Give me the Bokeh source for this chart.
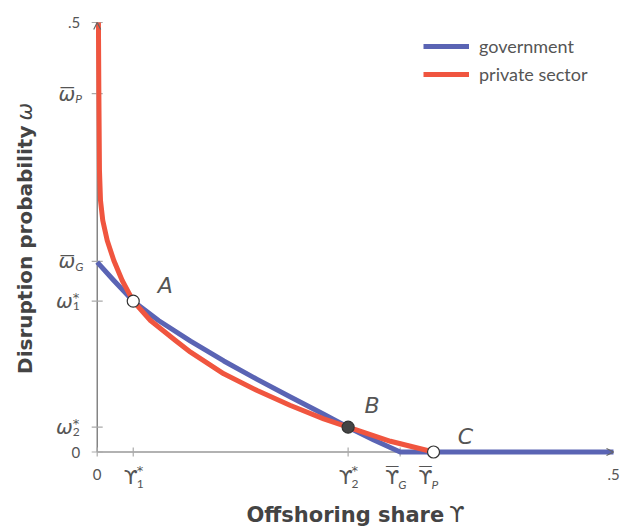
import math
from bokeh.plotting import figure
from bokeh.models import Range1d, Label, Arrow, OpenHead, Legend, LegendItem
from bokeh.embed import file_html
from bokeh.resources import INLINE

# ---------------- data ----------------
gov_x = [0.0, 0.0161, 0.0349, 0.0594, 0.0904, 0.1226, 0.1549, 0.1872, 0.2194, 0.243, 0.2679, 0.2934, 0.500]
gov_y = [0.221, 0.1996, 0.1756, 0.1531, 0.1290, 0.1060, 0.0845, 0.0640, 0.0440, 0.0289, 0.0140, 0.0, 0.0]

priv_x = [0.0012, 0.0016, 0.0022, 0.0032, 0.0054, 0.0097, 0.0161, 0.0242, 0.0349, 0.0516,
          0.0758, 0.0904, 0.1226, 0.1549, 0.1872, 0.2194, 0.243, 0.284, 0.3257]
priv_y = [0.500, 0.420, 0.3277, 0.2928, 0.2695, 0.2462, 0.2229, 0.1996, 0.1756, 0.1531,
          0.1298, 0.1162, 0.0910, 0.0716, 0.0541, 0.0386, 0.0289, 0.0125, 0.0]

pt_names = ["A", "B", "C"]
pt_x = [0.0349, 0.243, 0.3257]
pt_y = [0.1756, 0.0289, 0.0]
pt_fill = ["white", "#444444", "white"]

x_ticks = [0.0, 0.0349, 0.243, 0.2934, 0.3257, 0.5]
x_main = ["0", "ϒ", "ϒ", "ϒ", "ϒ", ".5"]
x_bar = [False, False, False, True, True, False]
x_sub = ["", "1", "2", "G", "P", ""]
x_sup = ["", "*", "*", "", "", ""]

y_ticks = [0.0, 0.0289, 0.1756, 0.222, 0.4173, 0.5]
y_main = ["0", "ω", "ω", "ω", "ω", ".5"]
y_bar = [False, False, False, True, True, False]
y_sub = ["", "2", "1", "G", "P", ""]
y_sup = ["", "*", "*", "", "", ""]

series_names = ["government", "private sector"]
x_title = ["Offshoring share", "ϒ"]
y_title = ["Disruption probability", "ω"]

# ---------------- styling ----------------
BLUE = "#5a64b4"
RED = "#f0553f"
TXT = "#555555"
TTL = "#444444"
AX = "#666666"
TICK = "#aaaaaa"
FONT = "Lato"
GREEK = "DejaVu Sans"
BOLD = "DejaVu Sans"

W, H = 622, 529
X0, X1 = -0.09365, 0.50872
Y0, Y1 = -0.09022, 0.52561
p = figure(width=W, height=H, output_backend="svg", toolbar_location=None,
           x_axis_type=None, y_axis_type=None,
           x_range=Range1d(X0, X1), y_range=Range1d(Y0, Y1), min_border=0)
p.outline_line_color = None
p.grid.visible = False
p.background_fill_color = "white"
p.border_fill_color = "white"

# axes drawn through the data scales
p.line([x_ticks[0], x_ticks[-1]], [0, 0], line_color=AX, line_width=1.2)
p.line([0, 0], [y_ticks[0], y_ticks[-1]], line_color=AX, line_width=1.2)
p.scatter(x_ticks[:-1], [0] * (len(x_ticks) - 1), marker="dash", size=9, angle=math.pi / 2,
          line_color=TICK, line_width=1.2)
p.scatter([0] * len(y_ticks), y_ticks, marker="dash", size=11,
          line_color=TICK, line_width=1.2)
p.add_layout(Arrow(end=OpenHead(size=7, line_color=AX, line_width=1.2),
                   x_start=x_ticks[-1] - 0.01, y_start=0, x_end=x_ticks[-1], y_end=0, line_alpha=0))
p.add_layout(Arrow(end=OpenHead(size=7, line_color=AX, line_width=1.2),
                   x_start=0, y_start=y_ticks[-1] - 0.01, x_end=0, y_end=y_ticks[-1], line_alpha=0))

r_gov = p.line(gov_x, gov_y, line_color=BLUE, line_width=5, line_join="round")
r_priv = p.line(priv_x, priv_y, line_color=RED, line_width=5, line_join="round")

for i in range(len(pt_x)):
    p.scatter([pt_x[i]], [pt_y[i]], size=12, fill_color=pt_fill[i],
              line_color="#333333", line_width=1.2)


def lab(x, y, dx, dy, text, size, style="normal", align="center", angle=0.0,
        font=FONT, color=TXT):
    p.add_layout(Label(x=x, y=y, x_offset=dx, y_offset=dy, text=text, angle=angle,
                       text_font=font, text_font_style=style, text_font_size=size,
                       text_color=color, text_align=align, text_baseline="middle"))


pt_off = [(32, 16), (24, 22), (32, 16)]
for name, x, y, (dx, dy) in zip(pt_names, pt_x, pt_y, pt_off):
    lab(x, y, dx, dy, name, "22px", style="italic", font=GREEK)

# x tick labels
for t, m, bar, sb, sp in zip(x_ticks, x_main, x_bar, x_sub, x_sup):
    if not sb and not sp:
        lab(t, 0, 0, -22, m, "15px")
        continue
    edge = 4.5 if sb.isdigit() else -1
    lab(t, 0, edge, -25, m, "20px", align="right", font=GREEK)
    if bar:
        lab(t, 0, edge - 7, -13, "\u2014", "14px", font=GREEK)
    if sb:
        lab(t, 0, edge - 1, -32, sb, "12px",
            style="normal" if sb.isdigit() else "italic", align="left")
    if sp:
        lab(t, 0, edge - 1, -18, sp, "13px", align="left", font=GREEK)

# y tick labels
for t, m, bar, sb, sp in zip(y_ticks, y_main, y_bar, y_sub, y_sup):
    if not sb and not sp:
        lab(0, t, -17, 0, m, "15px", align="right")
        continue
    edge = -24.5 if sb.isdigit() else -22
    lab(0, t, edge, 0, m, "20px", style="italic", align="right", font=GREEK)
    if bar:
        lab(0, t, edge - 8, 6.5, "\u2014", "15px", font=GREEK)
    if sb:
        lab(0, t, edge, -5, sb, "12px",
            style="normal" if sb.isdigit() else "italic", align="left")
    if sp:
        lab(0, t, edge, 4, sp, "13px", align="left", font=GREEK)

# axis titles (bold words, then the symbol in regular weight)
lab(0, 0, 347, -63, x_title[0], "21px", style="bold", align="right", font=BOLD, color=TTL)
lab(0, 0, 352, -62, x_title[1], "22px", align="left", font=GREEK, color=TTL)
lab(0, 0.380, -72.7, 0, y_title[0], "20px", style="bold", align="right",
    angle=math.pi / 2, font=BOLD, color=TTL)
lab(0, 0.386, -72.7, 0, y_title[1], "21px", style="italic", align="left",
    angle=math.pi / 2, font=GREEK, color=TTL)

legend = Legend(items=[LegendItem(label=series_names[0], renderers=[r_gov]),
                       LegendItem(label=series_names[1], renderers=[r_priv])],
                location=(423, 444), padding=0, margin=0, spacing=6,
                glyph_width=46, glyph_height=20, label_height=20, label_standoff=10,
                label_text_font=FONT, label_text_font_size="18px", label_text_color=TXT,
                border_line_alpha=0, background_fill_alpha=0)
p.add_layout(legend)

open("out.html", "w").write(file_html(p, INLINE))
